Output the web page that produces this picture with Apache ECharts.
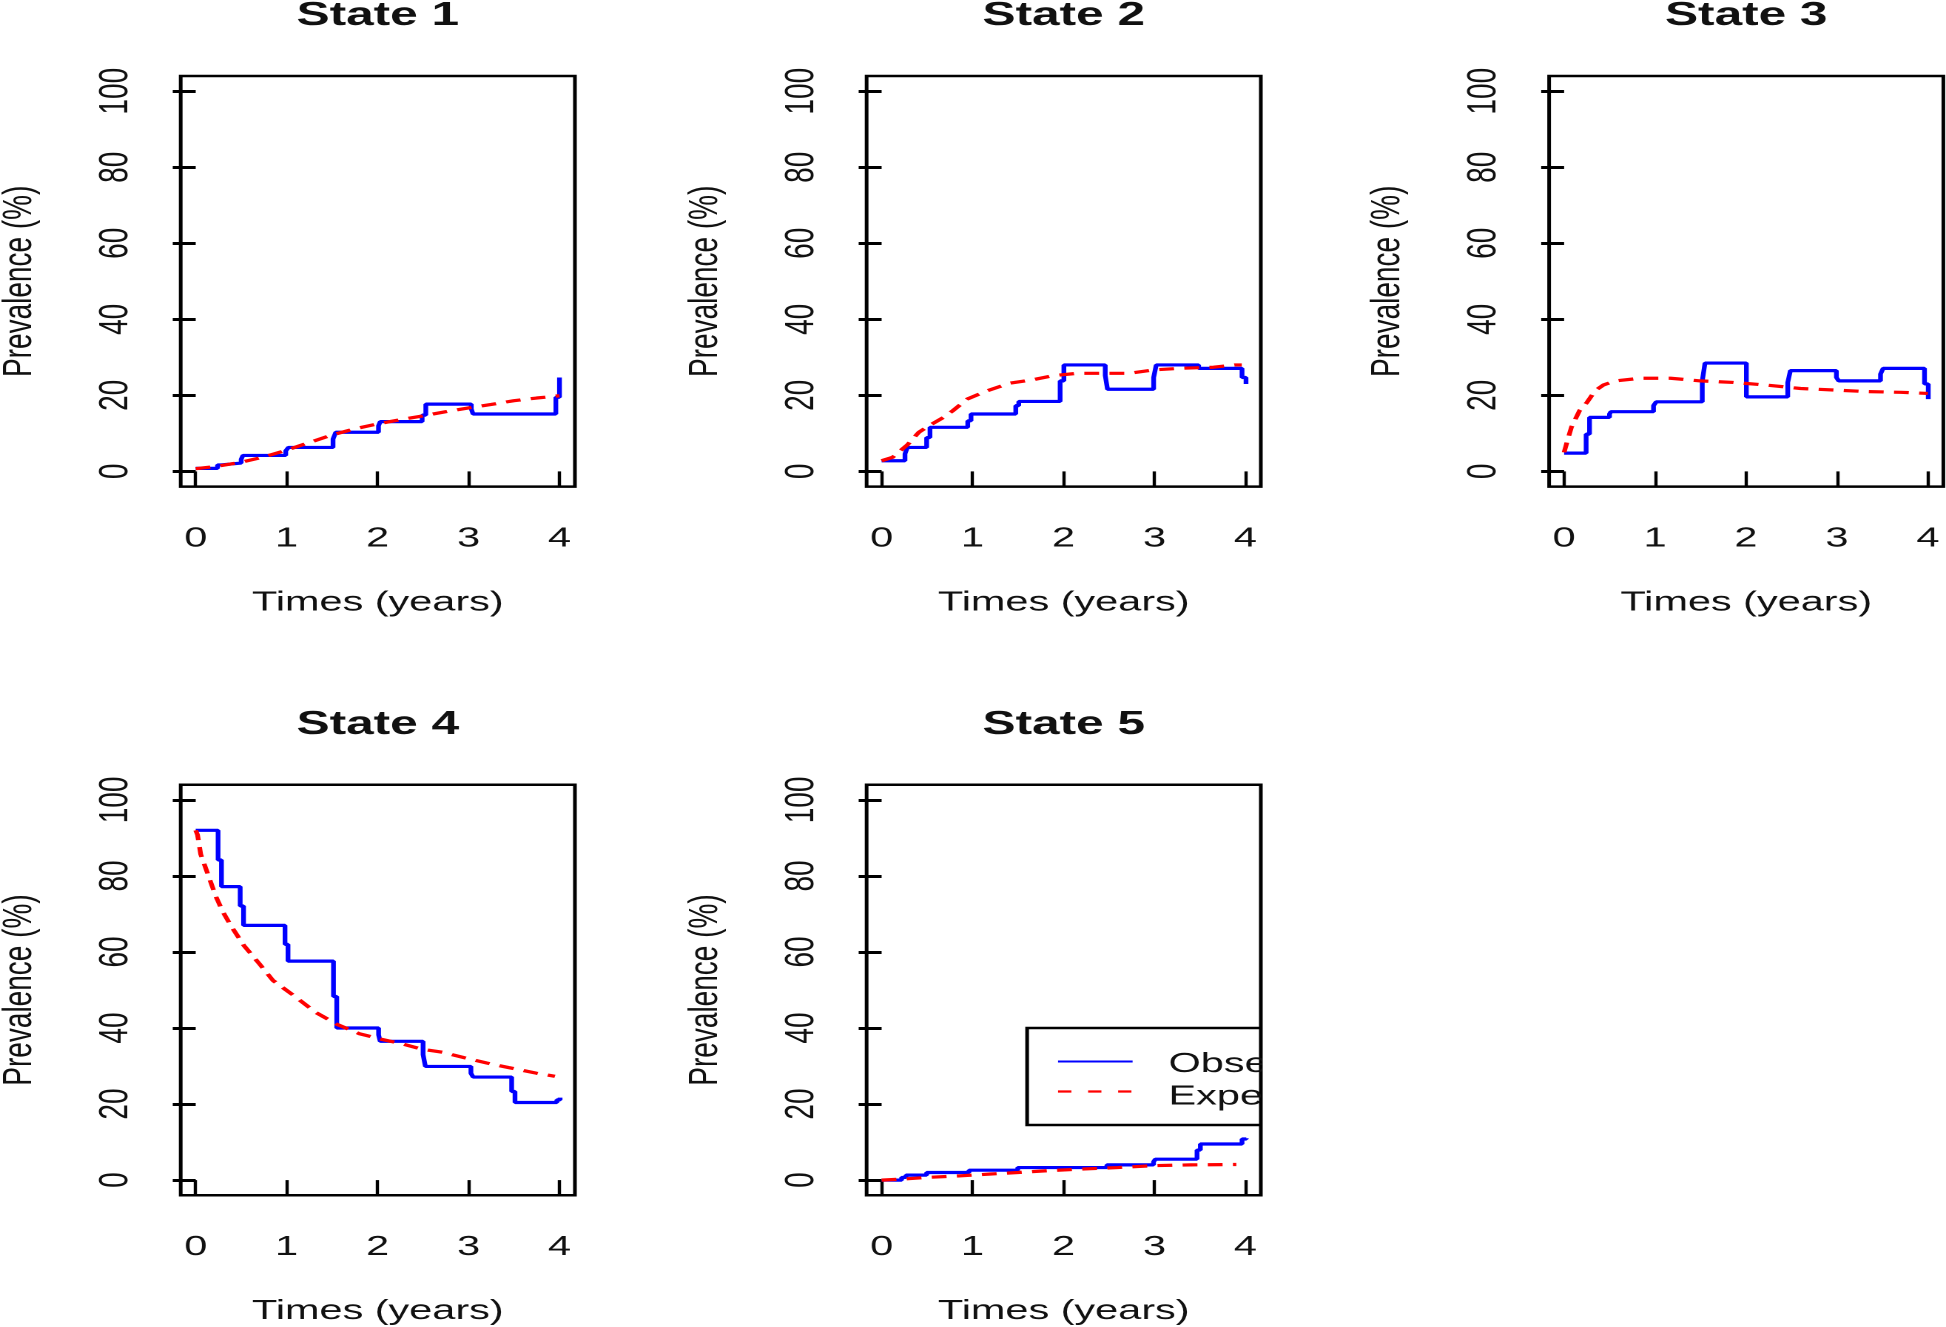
<!DOCTYPE html>
<html>
<head>
<meta charset="utf-8">
<script src="https://cdn.jsdelivr.net/npm/echarts@6/dist/echarts.min.js"></script>
<style>
html, body { margin: 0; padding: 0; background: #ffffff; overflow: hidden; width: 1946px; height: 1327px; }
#main { width: 1315px; height: 1327px; transform: scaleX(1.479848); transform-origin: 0 0; }
</style>
</head>
<body>
<div id="main"></div>
<script>
// ---------------- data ----------------
const stateNames = ['State 1', 'State 2', 'State 3', 'State 4', 'State 5'];
const xTicks = [0, 1, 2, 3, 4];
const yTicks = [0, 20, 40, 60, 80, 100];
const xTitle = 'Times (years)';
const yTitle = 'Prevalence (%)';
const legendLabels = ['Observed', 'Expected'];

// Observed prevalence (step function): [time, value after jump]
const observed1 = [[0,0.8],[0.24,1.7],[0.276,2.2],[0.50,3.2],[0.52,4.2],[0.99,5.4],[1.02,6.3],[1.51,8.5],[1.54,10.3],[2.01,12.0],[2.03,13.1],[2.49,14.8],[2.53,17.7],[3.03,16.4],[3.05,15.1],[3.96,19.5],[4.0,24.7]];
const observed2 = [[0,2.8],[0.257,4.6],[0.283,6.3],[0.495,8.9],[0.532,11.6],[0.947,13.3],[0.983,15.1],[1.475,17.3],[1.508,18.4],[1.963,23.8],[2.004,28.0],[2.459,25.2],[2.484,21.6],[2.991,24.7],[3.02,28.0],[3.486,27.1],[3.963,24.7],[4.007,23.0]];
const observed3 = [[0,4.8],[0.242,9.8],[0.279,14.2],[0.499,15.1],[0.514,15.7],[0.983,17.3],[1.013,18.3],[1.519,23.8],[1.549,28.5],[2.004,19.6],[2.459,23.4],[2.488,26.5],[2.994,24.7],[3.02,23.8],[3.479,25.6],[3.508,27.1],[3.963,23.0],[4.004,19.0]];
const observed4 = [[0,92.0],[0.246,84.2],[0.283,77.2],[0.489,72.1],[0.526,67.0],[0.982,62.0],[1.015,57.6],[1.515,48.3],[1.551,40.0],[2.011,38.2],[2.029,36.5],[2.5,33.0],[2.526,29.9],[3.026,28.1],[3.051,27.1],[3.474,23.3],[3.511,20.4],[3.971,21.1],[4.007,21.7]];
const observed5 = [[0,0],[0.22,0.7],[0.268,1.3],[0.495,2.0],[0.961,2.6],[1.497,3.3],[2.477,4.0],[2.99,4.8],[3.01,5.5],[3.468,7.9],[3.505,9.5],[3.963,10.8],[4.01,11.0]];

// Expected prevalence (model curve): [time, value]
const expected1 = [[0,0.7],[0.25,1.4],[0.5,2.4],[0.75,3.8],[1,5.6],[1.25,7.6],[1.5,9.6],[1.75,11.2],[2,12.5],[2.25,13.6],[2.5,14.6],[2.75,15.7],[3,16.7],[3.25,17.6],[3.5,18.6],[3.75,19.3],[4,19.9]];
const expected2 = [[0,2.8],[0.12,3.7],[0.28,6.9],[0.41,10.3],[0.52,12.0],[0.68,14.2],[0.78,15.9],[0.94,19.0],[1.16,21.2],[1.41,23.2],[1.66,24.1],[1.89,25.2],[2.15,25.8],[2.72,25.8],[2.99,26.7],[3.27,27.1],[3.65,27.4],[3.88,28.0],[3.96,28.0]];
const expected3 = [[0,5.0],[0.03,7.6],[0.08,11.6],[0.17,16.0],[0.25,18.1],[0.34,21.2],[0.43,22.7],[0.56,23.8],[0.84,24.5],[1.17,24.5],[1.5,23.8],[1.86,23.4],[2.23,22.7],[2.6,21.8],[2.97,21.4],[3.33,21.0],[3.7,20.8],[4.0,20.5]];
const expected4 = [[0,92.0],[0.02,90.8],[0.055,85.7],[0.13,80.7],[0.22,74.7],[0.30,70.5],[0.39,66.8],[0.53,61.7],[0.70,56.9],[0.85,52.5],[1.08,48.5],[1.32,44.1],[1.56,40.9],[1.80,38.5],[2.03,37.1],[2.26,35.9],[2.49,34.4],[2.72,33.6],[2.95,32.2],[3.20,30.8],[3.44,29.6],[3.75,28.1],[3.95,27.3]];
const expected5 = [[0,0],[0.25,0.3],[0.5,0.7],[0.85,1.1],[1.2,1.6],[1.5,2.0],[1.85,2.5],[2.2,2.9],[2.6,3.3],[3.0,3.8],[3.4,4.0],[3.9,4.1]];

const observedData = [observed1, observed2, observed3, observed4, observed5];
const expectedData = [expected1, expected2, expected3, expected4, expected5];

// ---------------- layout / style ----------------
const FONT = 'Liberation Sans';
const colLeft = [122.1, 585.6, 1046.8];
const rowTop = [76, 784.7];
const GW = 266.4, GH = 410.6;
const titleTop = [-1, 707.7];

const grids = [], xAxes = [], yAxes = [], series = [], titles = [];

stateNames.forEach((name, i) => {
  const c = i % 3, r = Math.floor(i / 3);
  grids.push({
    left: colLeft[c], top: rowTop[r], width: GW, height: GH,
    show: true, borderColor: '#000', borderWidth: 2.5, backgroundColor: 'transparent',
    containLabel: false, outerBoundsMode: 'none'
  });
  titles.push({
    text: name, left: colLeft[c] + GW / 2, top: titleTop[r], textAlign: 'center', padding: 0,
    textStyle: { fontFamily: FONT, fontWeight: 'bold', fontSize: 33.5, color: '#111' }
  });
  xAxes.push({
    type: 'value', gridIndex: i, min: -0.165, max: 4.17,
    axisLine: { show: false },
    splitLine: { show: false },
    axisTick: { show: true, customValues: xTicks, length: 16, lineStyle: { color: '#000', width: 2.2 } },
    axisLabel: { show: true, customValues: xTicks, margin: 38, fontFamily: FONT, fontSize: 28, color: '#111' },
    name: xTitle, nameLocation: 'middle', nameGap: 102,
    nameTextStyle: { fontFamily: FONT, fontSize: 28, color: '#111' }
  });
  yAxes.push({
    type: 'value', gridIndex: i, min: -4, max: 104,
    axisLine: { show: false },
    splitLine: { show: false },
    axisTick: { show: true, customValues: yTicks, length: 15.5, lineStyle: { color: '#000', width: 3 } },
    axisLabel: { show: true, customValues: yTicks, rotate: 90, margin: 30, fontFamily: FONT, fontSize: 28, color: '#111' },
    name: yTitle, nameLocation: 'middle', nameRotate: 90, nameGap: 95,
    nameTextStyle: { fontFamily: FONT, fontSize: 28, color: '#111' }
  });
  series.push({
    name: legendLabels[0], type: 'line', xAxisIndex: i, yAxisIndex: i,
    data: observedData[i], step: 'end', showSymbol: false, symbol: 'none',
    lineStyle: { color: '#0000ff', width: 3.2 }, itemStyle: { color: '#0000ff' }, z: 3
  });
  series.push({
    name: legendLabels[1], type: 'line', xAxisIndex: i, yAxisIndex: i,
    data: expectedData[i], showSymbol: false, symbol: 'none',
    lineStyle: { color: '#ff0000', width: 3.2, type: [10, 7] }, itemStyle: { color: '#ff0000' }, z: 4
  });
});

// Legend box in panel 5 (placed in data coordinates, clipped by the plot region like the original)
series.push({
  type: 'custom', xAxisIndex: 4, yAxisIndex: 4, clip: true, silent: true, z: 6,
  data: [[1.6, 40]],
  renderItem: function (params, api) {
    const tl = api.coord([1.6, 40]);
    const br = api.coord([4.8, 14.5]);
    const a1 = api.coord([1.94, 31.2]), b1 = api.coord([2.76, 31.2]);
    const a2 = api.coord([1.94, 23.3]), b2 = api.coord([2.76, 23.3]);
    const t1 = api.coord([3.155, 30.5]), t2 = api.coord([3.155, 21.9]);
    return {
      type: 'group',
      children: [
        { type: 'rect', shape: { x: tl[0], y: tl[1], width: br[0] - tl[0], height: br[1] - tl[1] },
          style: { fill: 'none', stroke: '#000', lineWidth: 2.5 } },
        { type: 'line', shape: { x1: a1[0], y1: a1[1], x2: b1[0], y2: b1[1] },
          style: { stroke: '#0000ff', lineWidth: 2 } },
        { type: 'line', shape: { x1: a2[0], y1: a2[1], x2: b2[0], y2: b2[1] },
          style: { stroke: '#ff0000', lineWidth: 2.2, lineDash: [9, 11.3] } },
        { type: 'text', x: t1[0], y: t1[1],
          style: { text: legendLabels[0], fill: '#111', fontSize: 28, fontFamily: FONT, align: 'left', verticalAlign: 'middle' } },
        { type: 'text', x: t2[0], y: t2[1],
          style: { text: legendLabels[1], fill: '#111', fontSize: 28, fontFamily: FONT, align: 'left', verticalAlign: 'middle' } }
      ]
    };
  }
});

const chart = echarts.init(document.getElementById('main'), null, { renderer: 'canvas', devicePixelRatio: 2 });
chart.setOption({
  backgroundColor: '#ffffff',
  animation: false,
  title: titles,
  grid: grids,
  xAxis: xAxes,
  yAxis: yAxes,
  series: series
});
</script>
</body>
</html>
